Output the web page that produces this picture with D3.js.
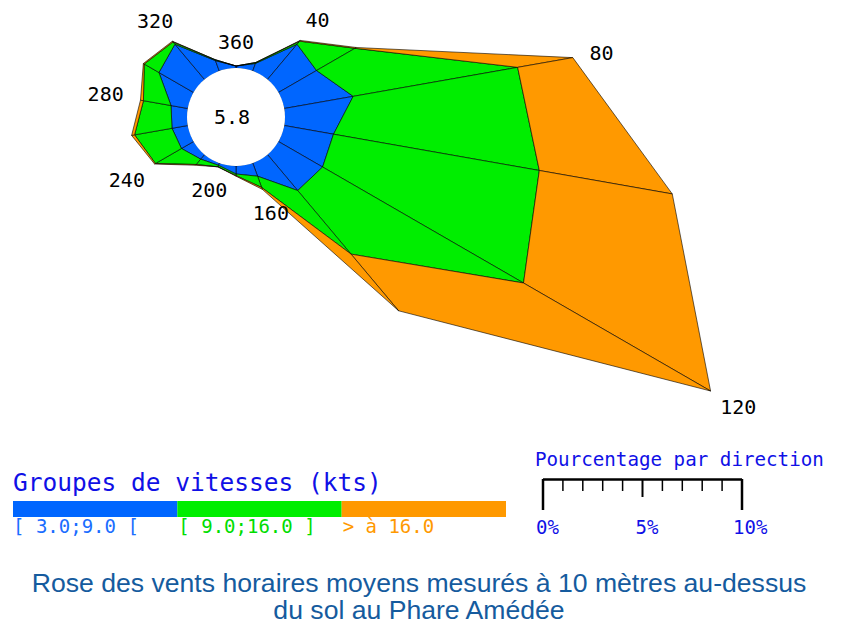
<!DOCTYPE html>
<html><head><meta charset="utf-8">
<script src="https://cdn.jsdelivr.net/npm/d3@7"></script>
<style>body{margin:0;background:#fff}svg{display:block}</style>
</head><body>
<script>
// ---- data ----
const directions = [0,20,40,60,80,100,120,140,160,180,200,220,240,260,280,300,320,340];
const band1 = [0.1,0.4,2.3,2.2,3.5,2.5,2.55,2.35,0.7,0.4,0.12,0.3,0.7,0.8,0.85,2.0,2.3,0.55];   // [3.0;9.0[
const band2 = [0.0,0.05,0.2,2.22,8.35,10.45,11.6,4.15,0.6,0.08,0.08,0.35,1.5,1.9,1.4,0.85,0.15,0.05]; // [9.0;16.0]
const band3 = [0.0,0.0,0.05,0.08,2.8,6.75,10.8,3.7,0.1,0.03,0.0,0.05,0.05,0.15,0.15,0.05,0.05,0.0]; // >16
const calm = "5.8";
const dirLabels = [40,80,120,160,200,240,280,320,360];
const bandNames = ["[ 3.0;9.0 [", "[ 9.0;16.0 ]", "> à 16.0"];
const bandColors = ["#0066ff","#00ee00","#ff9900"];
const labelColors = ["#1a6dff","#00dd00","#ff9900"];
const scaleTicks = [0,1,2,3,4,5,6,7,8,9,10];
const scaleLabels = [0,5,10];
const titleLines = ["Rose des vents horaires moyens mesurés à 10 mètres au-dessus","du sol au Phare Amédée"];

// ---- drawing ----
const W=841,H=624, cx=236, cy=117, R0=49;
const svg = d3.select("body").append("svg").attr("width",W).attr("height",H);
const r = d3.scaleLinear().domain([0,10]).range([R0, R0+200]);
const pt = (deg,v)=>{const a=deg*Math.PI/180; return [cx+r(v)*Math.sin(a), cy-r(v)*Math.cos(a)];};

const bands=[band1,band2,band3];
const cum=[directions.map(()=>0)];
bands.forEach((b,k)=>cum.push(b.map((v,i)=>cum[k][i]+v)));

const g = svg.append("g");
const n=directions.length;
for(let k=0;k<3;k++){
  for(let i=0;i<n;i++){
    const j=(i+1)%n;
    const poly=[pt(directions[i],cum[k][i]),pt(directions[j],cum[k][j]),pt(directions[j],cum[k+1][j]),pt(directions[i],cum[k+1][i])];
    g.append("path").attr("d","M"+poly.map(p=>p.join(",")).join("L")+"Z")
      .attr("fill",bandColors[k]).attr("stroke","#000").attr("stroke-width",0.6).attr("stroke-linejoin","round");
  }
}
svg.append("circle").attr("cx",cx).attr("cy",cy).attr("r",R0).attr("fill","#fff");
svg.append("text").attr("x",cx-4).attr("y",cy).attr("dy","0.36em").attr("text-anchor","middle")
  .attr("font-family","DejaVu Sans Mono").attr("font-size",20).text(calm);

// direction labels: placed radially beyond the tip, clear of the text box
const fs=20, cw=fs*0.602, hh=7.5, pad=17;
dirLabels.forEach(d=>{
  const i=directions.indexOf(d%360);
  const a=d*Math.PI/180, s=Math.sin(a), c=Math.cos(a);
  const txt=String(d), hw=txt.length*cw/2;
  const boxR=Math.min(Math.abs(s)>1e-6?hw/Math.abs(s):1e9, Math.abs(c)>1e-6?hh/Math.abs(c):1e9);
  const rr=r(cum[3][i])+pad+boxR;
  const x=cx+rr*s, y=cy-rr*c;
  svg.append("text").attr("x",x).attr("y",y).attr("dy","0.36em").attr("text-anchor","middle")
    .attr("font-family","DejaVu Sans Mono").attr("font-size",fs).attr("fill","#000").text(txt);
});

// speed legend
svg.append("text").attr("x",13).attr("y",491).attr("font-family","DejaVu Sans Mono").attr("font-size",24.5)
  .attr("fill","#1010e6").text("Groupes de vitesses (kts)");
const lx=d3.scaleLinear().domain([0,3]).range([13,506]);
bandNames.forEach((nm,k)=>{
  svg.append("rect").attr("x",lx(k)).attr("y",501).attr("width",lx(k+1)-lx(k)).attr("height",16).attr("fill",bandColors[k]);
  svg.append("text").attr("x",lx(k)+(k?1:0)).attr("y",533).attr("font-family","DejaVu Sans Mono").attr("font-size",19)
    .attr("fill",labelColors[k]).style("white-space","pre").text(nm);
});

// percentage scale
svg.append("text").attr("x",535).attr("y",466).attr("font-family","DejaVu Sans Mono").attr("font-size",19.2)
  .attr("fill","#1010e6").text("Pourcentage par direction");
const sx=d3.scaleLinear().domain([0,10]).range([543,742]);
svg.append("line").attr("x1",sx(0)).attr("x2",sx(10)).attr("y1",479.5).attr("y2",479.5).attr("stroke","#000").attr("stroke-width",2.5);
scaleTicks.forEach(t=>{
  const end=(t===0||t===10), mid=(t===5);
  svg.append("line").attr("x1",sx(t)).attr("x2",sx(t)).attr("y1",479).attr("y2",end?510:(mid?497:491))
    .attr("stroke","#000").attr("stroke-width",end?2.5:(mid?2:1.5));
});
scaleLabels.forEach(t=>{
  svg.append("text").attr("x",sx(t)-(t===10?9:7)).attr("y",534).attr("font-family","DejaVu Sans Mono").attr("font-size",19)
    .attr("fill","#1010e6").text(t+"%");
});

// title
titleLines.forEach((t,i)=>{
  svg.append("text").attr("x",419).attr("y",592+i*27).attr("text-anchor","middle")
    .attr("font-family","Liberation Sans").attr("font-size",26.6).attr("fill","#155b9e").text(t);
});
</script>
</body></html>
